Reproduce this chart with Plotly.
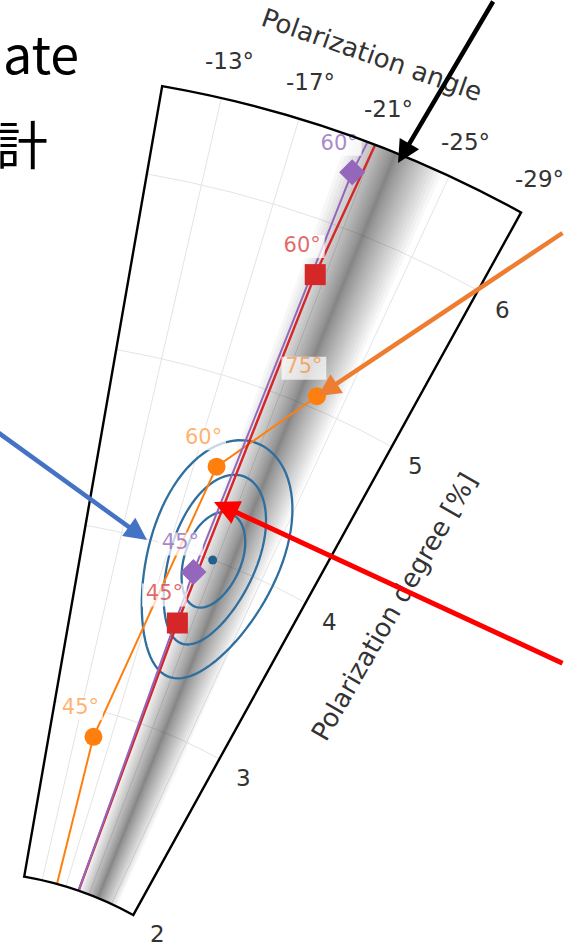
import math
import plotly.graph_objects as go

# ---------------- data ----------------
# model tracks: polarization angle [deg] vs polarization degree [%]
orange_track_theta = [-15.5, -15.05, -18.6, -23.25]
orange_track_r = [2.0, 2.85, 4.5, 5.07]
orange_incl = [45, 60, 75]
orange_theta = [-15.05, -18.6, -23.25]
orange_r = [2.85, 4.5, 5.07]

red_track_theta = [-19.2, -19.72, -20.45, -21.0]
red_track_r = [2.0, 3.6, 5.7, 6.5]
red_incl = [45, 60]
red_theta = [-19.72, -20.45]
red_r = [3.6, 5.7]

purple_track_theta = [-19.2, -19.55, -20.4, -20.6]
purple_track_r = [2.0, 3.9, 6.31, 6.5]
purple_incl = [45, 60]
purple_theta = [-19.55, -20.4]
purple_r = [3.9, 6.31]

# measured value and its confidence contours (half extents)
obs_theta = -20.7
obs_r = 4.0
contour_dtheta = [2.3, 3.5, 5.3]
contour_dr = [0.28, 0.50, 0.70]

# allowed polarization-angle band
band_r = [2.0, 6.5]
band_theta = [-22.6, -22.1]
band_halfwidth = [3.4, 2.5]

theta_ticks = [-13, -17, -21, -25, -29]
r_ticks = [2, 3, 4, 5, 6]

# ---------------- geometry ----------------
THETA_MIN, THETA_MAX = -29.0, -10.0
R_MIN, R_MAX = 2.0, 6.5
ROT = 90.1
FIG_W, FIG_H = 600, 1230
SHIFT = 36              # page offset of the figure div
R_OUT = 1152.7          # outer radius in px
HOLE = 350.15 / R_OUT
CX, CY = 0.0, 1221.6    # pole position in figure px

s0 = math.radians(ROT + THETA_MIN)
s1 = math.radians(ROT + THETA_MAX)
bbox_w = R_OUT * math.cos(s0)
bbox_h = R_OUT * math.sin(s1)
top = CY - bbox_h
gap = 5
dom_x = [0.0, bbox_w / FIG_W]
dom_y = [1 - (CY + gap) / FIG_H, 1 - (top - gap) / FIG_H]


def rad_px(r):
    return R_OUT * (HOLE + (1 - HOLE) * (r - R_MIN) / (R_MAX - R_MIN))


def to_page(theta, r, extra=0.0):
    d = rad_px(r) + extra
    a = math.radians(ROT + theta)
    return CX + d * math.cos(a) - SHIFT, CY - d * math.sin(a)


def from_page(x, y):
    dx = x + SHIFT - CX
    dy = CY - y
    d = math.hypot(dx, dy)
    theta = math.degrees(math.atan2(dy, dx)) - ROT
    r = R_MIN + (d / R_OUT - HOLE) / (1 - HOLE) * (R_MAX - R_MIN)
    return theta, r


def paper(x, y):
    return (x + SHIFT) / FIG_W, 1 - y / FIG_H


fig = go.Figure()

# grey band (stacked translucent layers, denser towards the centre)
N_LAYERS = 20
for k in range(1, N_LAYERS + 1):
    f = (k / N_LAYERS) ** 1.5
    th = [band_theta[0] - f * band_halfwidth[0], band_theta[1] - f * band_halfwidth[1],
          band_theta[1] + f * band_halfwidth[1], band_theta[0] + f * band_halfwidth[0]]
    rr = [band_r[0], band_r[1], band_r[1], band_r[0]]
    fig.add_trace(go.Scatterpolar(theta=th, r=rr, mode="none", fill="toself",
                                  fillcolor="rgba(40,40,40,0.036)",
                                  hoverinfo="skip", showlegend=False))

# confidence contours
BLUE = "#2f6f9f"
for dth, dr in zip(contour_dtheta, contour_dr):
    ts = [2 * math.pi * i / 90 for i in range(91)]
    fig.add_trace(go.Scatterpolar(theta=[obs_theta + dth * math.cos(t) for t in ts],
                                  r=[obs_r + dr * math.sin(t) for t in ts],
                                  mode="lines", line=dict(color=BLUE, width=2.3),
                                  hoverinfo="skip", showlegend=False))

ORANGE, RED, PURPLE = "#ff7f0e", "#d62728", "#9467bd"

fig.add_trace(go.Scatterpolar(theta=orange_track_theta, r=orange_track_r, mode="lines",
                              line=dict(color=ORANGE, width=2), showlegend=False))
fig.add_trace(go.Scatterpolar(theta=red_track_theta, r=red_track_r, mode="lines",
                              line=dict(color=RED, width=2.4), showlegend=False))
fig.add_trace(go.Scatterpolar(theta=purple_track_theta, r=purple_track_r, mode="lines",
                              line=dict(color=PURPLE, width=2), showlegend=False))

fig.add_trace(go.Scatterpolar(theta=orange_theta, r=orange_r, mode="markers",
                              marker=dict(color=ORANGE, size=18, symbol="circle"), showlegend=False))
fig.add_trace(go.Scatterpolar(theta=red_theta, r=red_r, mode="markers",
                              marker=dict(color=RED, size=21, symbol="square"), showlegend=False))
fig.add_trace(go.Scatterpolar(theta=purple_theta, r=purple_r, mode="markers",
                              marker=dict(color=PURPLE, size=20, symbol="diamond"), showlegend=False))
fig.add_trace(go.Scatterpolar(theta=[obs_theta], r=[obs_r], mode="markers",
                              marker=dict(color="#24608f", size=9), showlegend=False))

# inclination labels with translucent white boxes
LABEL_OFF = (-13, -28)
for th_list, r_list, incl, col in [
    (orange_theta, orange_r, orange_incl, "rgba(255,127,14,0.62)"),
    (red_theta, red_r, red_incl, "rgba(214,39,40,0.7)"),
    (purple_theta, purple_r, purple_incl, "rgba(148,103,189,0.78)"),
]:
    lt, lr = [], []
    for t, r in zip(th_list, r_list):
        x, y = to_page(t, r)
        a, b = from_page(x + LABEL_OFF[0], y + LABEL_OFF[1])
        lt.append(a)
        lr.append(b)
    fig.add_trace(go.Scatterpolar(theta=lt, r=lr, mode="markers", cliponaxis=False,
                                  marker=dict(symbol="line-ew", size=32,
                                              line=dict(width=23, color="rgba(255,255,255,0.72)")),
                                  hoverinfo="skip", showlegend=False))
    fig.add_trace(go.Scatterpolar(theta=lt, r=lr, mode="text", cliponaxis=False,
                                  text=[f"{v}°" for v in incl], textposition="middle center",
                                  textfont=dict(family="DejaVu Sans", size=21, color=col),
                                  hoverinfo="skip", showlegend=False))

annotations = []
TICK_FONT = dict(family="DejaVu Sans", size=23, color="#333333")

# angular tick labels outside the outer arc
for t in theta_ticks:
    x, y = to_page(t, R_MAX, extra=38)
    px_, py_ = paper(x, y)
    annotations.append(dict(x=px_, y=py_, xref="paper", yref="paper", text=f"{t}°",
                            showarrow=False, xanchor="center", yanchor="middle", font=TICK_FONT))

# radial tick labels beside the right edge
edge = math.radians(ROT + THETA_MIN)
ux, uy = math.cos(edge), -math.sin(edge)
nx, ny = math.sin(edge), math.cos(edge)
for r in r_ticks:
    x, y = to_page(THETA_MIN, r)
    x += 31.5 * nx - 7 * ux
    y += 31.5 * ny - 7 * uy - 2
    px_, py_ = paper(x, y)
    annotations.append(dict(x=px_, y=py_, xref="paper", yref="paper", text=str(r),
                            showarrow=False, xanchor="center", yanchor="middle", font=TICK_FONT))

TITLE_FONT = dict(family="DejaVu Sans", size=26, color="#333333")
x, y = to_page(-19.4, R_MAX, extra=83)
px_, py_ = paper(x, y)
annotations.append(dict(x=px_, y=py_, xref="paper", yref="paper", text="Polarization angle",
                        showarrow=False, xanchor="center", yanchor="middle",
                        textangle=90 - (ROT - 19.4), font=TITLE_FONT))
x, y = to_page(THETA_MIN, 4.22)
x += 79 * nx
y += 79 * ny
px_, py_ = paper(x, y)
annotations.append(dict(x=px_, y=py_, xref="paper", yref="paper", text="Polarization degree [%]",
                        showarrow=False, xanchor="center", yanchor="middle",
                        textangle=-60, font=TITLE_FONT))


def arrow(tail, tip, color, width):
    tx, ty = paper(*tip)
    return dict(x=tx, y=ty, xref="paper", yref="paper", axref="pixel", ayref="pixel",
                ax=tail[0] - tip[0], ay=tail[1] - tip[1], text="", showarrow=True,
                arrowhead=2, arrowsize=1.0, arrowwidth=width, arrowcolor=color, standoff=0)


annotations += [
    arrow((494, -4), (398, 163), "black", 4.5),
    arrow((568, 232), (318, 396), "#ed7d31", 4.5),
    arrow((-4, 431), (147, 540), "#4472c4", 4.5),
    arrow((568, 664), (214, 502), "#ff0000", 5),
]

# slide text partly outside the view
SLIDE_FONT = dict(family="Noto Sans CJK JP", size=52, color="black")
x, y = paper(1, 52)
annotations.append(dict(x=x, y=y, xref="paper", yref="paper", text="ate", showarrow=False,
                        xanchor="left", yanchor="middle", font=SLIDE_FONT))
x, y = paper(50, 143)
annotations.append(dict(x=x, y=y, xref="paper", yref="paper", text="計", showarrow=False,
                        xanchor="right", yanchor="middle", font=SLIDE_FONT))

GRID = "#e4e4e4"
fig.update_layout(
    width=FIG_W, height=FIG_H,
    margin=dict(l=0, r=0, t=0, b=0),
    paper_bgcolor="white",
    showlegend=False,
    annotations=annotations,
    polar=dict(
        domain=dict(x=dom_x, y=dom_y),
        sector=[ROT + THETA_MIN, ROT + THETA_MAX],
        hole=HOLE,
        bgcolor="white",
        angularaxis=dict(rotation=ROT, direction="counterclockwise", tickmode="array",
                         tickvals=theta_ticks, showticklabels=False, ticks="",
                         showline=True, linecolor="black", linewidth=2.4,
                         showgrid=True, gridcolor=GRID, gridwidth=1.2),
        radialaxis=dict(range=[R_MIN, R_MAX], tickmode="array", tickvals=r_ticks,
                        showticklabels=False, ticks="", showline=False,
                        angle=ROT + THETA_MIN, showgrid=True, gridcolor=GRID, gridwidth=1.2),
    ),
)

post = (
    "var gd=document.getElementById('{plot_id}');"
    "document.body.style.margin='0';"
    "document.documentElement.style.overflow='hidden';"
    "gd.style.marginLeft='-" + str(SHIFT) + "px';"
    "gd.style.height='948px';"
    "gd.style.overflow='hidden';"
)
fig.write_html("out.html", post_script=post)
